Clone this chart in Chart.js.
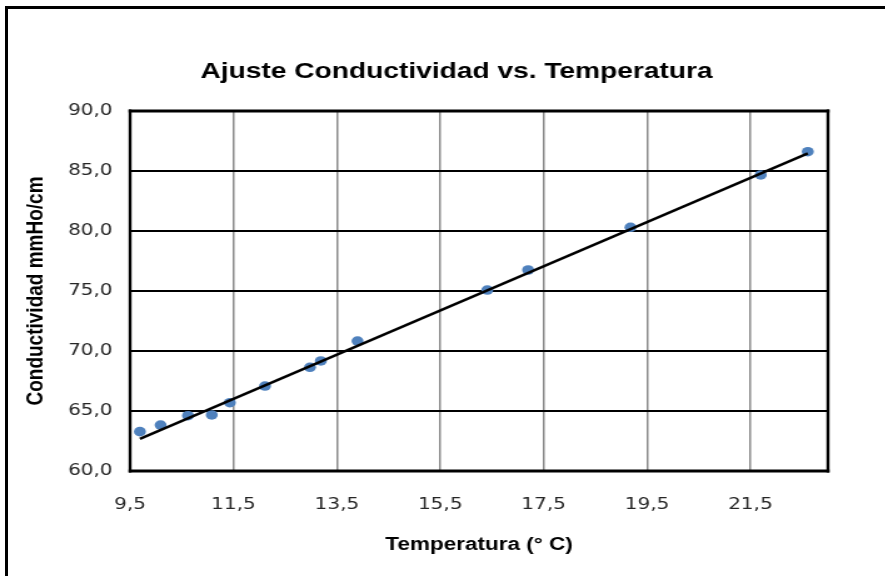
<!DOCTYPE html>
<html lang="es">
<head>
<meta charset="utf-8">
<title>Ajuste Conductividad vs. Temperatura</title>
<script src="https://cdn.jsdelivr.net/npm/chart.js@4.4.0/dist/chart.umd.min.js"></script>
<style>
  html, body { margin: 0; padding: 0; background: #fff; overflow: hidden; }
  #wrap { position: relative; width: 885px; height: 576px; overflow: hidden; }
  #frame { position: absolute; left: 5px; top: 6px; width: 900px; height: 600px; border: 3px solid #000; }
  #chart { position: absolute; left: 0; top: 0; }
</style>
</head>
<body>
<div id="wrap">
  <div id="frame"></div>
  <canvas id="chart" width="730" height="576"></canvas>
</div>
<script>
// Datos (temperatura en °C, conductividad en mmHo/cm)
const temperatura = [9.69, 10.09, 10.62, 11.08, 11.43, 12.11, 12.98, 13.19, 13.90, 16.41, 17.20, 19.18, 21.70, 22.61];
const conductividad = [63.28, 63.83, 64.61, 64.67, 65.69, 67.08, 68.64, 69.17, 70.83, 75.08, 76.75, 80.31, 84.67, 86.61];

// Recta de ajuste (extremos)
const ajusteX = [9.69, 22.61];
const ajusteY = [62.67, 86.47];

// Marcas de los ejes
const ticksX = [9.5, 11.5, 13.5, 15.5, 17.5, 19.5, 21.5];
const ticksY = [60, 65, 70, 75, 80, 85, 90];

// La imagen original está estirada horizontalmente
const ESTIRAMIENTO = 1.25;

function coma(v) {
    return Number(v).toFixed(1).replace('.', ',');
}

const fuenteTicks = '"DejaVu Sans", Verdana, sans-serif';
const fuenteTitulo = '"Liberation Sans", Arial, sans-serif';

// Marco grueso alrededor del área de trazado
const marcoArea = {
    id: 'marcoArea',
    beforeDatasetsDraw(chart) {
        const { ctx, chartArea: a } = chart;
        ctx.save();
        ctx.strokeStyle = '#000';
        ctx.lineWidth = 3;
        ctx.beginPath();
        ctx.moveTo(a.left - 1.2, a.top); ctx.lineTo(a.right + 1.2, a.top);
        ctx.moveTo(a.left - 1.2, a.bottom); ctx.lineTo(a.right + 1.2, a.bottom);
        ctx.stroke();
        ctx.lineWidth = 2.4;
        ctx.beginPath();
        ctx.moveTo(a.left, a.top - 1.5); ctx.lineTo(a.left, a.bottom + 1.5);
        ctx.moveTo(a.right, a.top - 1.5); ctx.lineTo(a.right, a.bottom + 1.5);
        ctx.stroke();
        ctx.restore();
    }
};

const canvas = document.getElementById('chart');

const chart = new Chart(canvas, {
    type: 'scatter',
    data: {
        datasets: [
            {
                type: 'line',
                label: 'Ajuste',
                data: ajusteX.map((x, i) => ({ x: x, y: ajusteY[i] })),
                borderColor: '#000',
                borderWidth: 2.5,
                pointRadius: 0,
                fill: false,
                showLine: true,
                order: 0
            },
            {
                label: 'Conductividad',
                data: temperatura.map((x, i) => ({ x: x, y: conductividad[i] })),
                backgroundColor: '#4F81BD',
                borderColor: '#4F81BD',
                borderWidth: 0,
                pointRadius: 4.8,
                order: 1
            }
        ]
    },
    options: {
        responsive: false,
        animation: false,
        layout: { padding: 0 },
        plugins: {
            legend: { display: false },
            tooltip: { enabled: false },
            title: {
                display: true,
                text: 'Ajuste Conductividad vs. Temperatura',
                color: '#000',
                font: { family: fuenteTitulo, size: 22.5, weight: 'bold' },
                padding: { top: 58, bottom: 26 }
            }
        },
        scales: {
            x: {
                type: 'linear',
                min: 9.5,
                max: 23,
                afterBuildTicks: s => { s.ticks = ticksX.map(v => ({ value: v })); },
                afterFit: s => { s.height = 105; },
                grid: { color: '#8a8a8a', lineWidth: 1.5, drawTicks: false },
                border: { display: false },
                ticks: {
                    autoSkip: false,
                    maxRotation: 0,
                    padding: 24,
                    color: '#262626',
                    font: { family: fuenteTicks, size: 16 },
                    callback: v => coma(v)
                },
                title: {
                    display: true,
                    text: 'Temperatura (° C)',
                    color: '#000',
                    font: { family: fuenteTitulo, size: 18, weight: 'bold' },
                    padding: { top: 0, bottom: 20 }
                }
            },
            y: {
                type: 'linear',
                min: ticksY[0],
                max: ticksY[ticksY.length - 1],
                afterBuildTicks: s => { s.ticks = ticksY.map(v => ({ value: v })); },
                afterFit: s => { s.width = 104; },
                grid: { color: '#000', lineWidth: 2, drawTicks: false },
                border: { display: false },
                ticks: {
                    padding: 14,
                    color: '#262626',
                    font: { family: fuenteTicks, size: 16 },
                    callback: v => coma(v)
                },
                title: {
                    display: true,
                    text: 'Conductividad mmHo/cm',
                    color: '#000',
                    font: { family: fuenteTitulo, size: 19, weight: 'bold' },
                    padding: { top: 17, bottom: 0 }
                }
            },
            // eje vacío a la derecha para dejar el margen del área de trazado
            y2: {
                position: 'right',
                display: true,
                ticks: { display: false },
                grid: { display: false, drawTicks: false },
                border: { display: false },
                afterFit: s => { s.width = 68; }
            }
        }
    },
    plugins: [marcoArea]
});

canvas.style.width = (canvas.width * ESTIRAMIENTO) + 'px';
canvas.style.height = canvas.height + 'px';
</script>
</body>
</html>
